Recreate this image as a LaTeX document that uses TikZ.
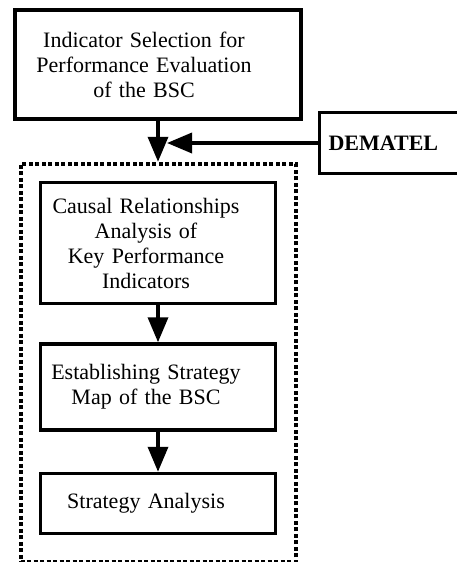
\documentclass[tikz,border=0pt]{standalone}
\usepackage{fontspec}
\setmainfont{Liberation Serif}
\usetikzlibrary{positioning,arrows.meta}

\begin{document}
\begin{tikzpicture}[
    x=1pt, y=1pt,
    font=\fontsize{22}{25}\selectfont,
    box/.style={rectangle, draw, line width=3.5pt, inner xsep=4pt, inner ysep=0pt, align=center,
        execute at begin node={\leftskip=0pt plus 1fill\rightskip=#1 plus 1fill\parfillskip=0pt}},
    dembox/.style={rectangle, draw, line width=3.5pt, text width=140pt, inner xsep=9pt, minimum height=61pt,
        align=left, font=\fontsize{22}{25}\selectfont\bfseries},
    frame/.style={rectangle, draw, line width=4pt, dash pattern=on 4pt off 2.5pt, inner sep=0pt,
        minimum width=275pt, minimum height=398pt},
    arrow/.style={-{Triangle[length=25pt, width=20pt]}, line width=3.5pt}
]
\useasboundingbox (0,0) rectangle (456,-562);

% SELECCION DE INDICADORES
\node[box=28pt, text width=278pt, minimum height=109pt] (sel) at (158,-64.5)
    {Indicator Selection for\\Performance Evaluation\\of the BSC};
\node[dembox, anchor=north west] (dem) at ([xshift=15pt, yshift=10pt]sel.south east) {DEMATEL};

% MARCO DEMATEL
\node[frame, below=41pt of sel] (grp) {};
\node[box=24pt, text width=227pt, minimum height=121pt, below=19pt of grp.north] (cau)
    {Causal Relationships\\Analysis of\\Key Performance\\Indicators};
\node[box=24pt, text width=227pt, minimum height=86pt, below=37pt of cau] (est)
    {Establishing Strategy\\Map of the BSC};
\node[box=24pt, text width=227pt, minimum height=60pt, below=40pt of est] (ana)
    {Strategy Analysis};

% Conexiones
\coordinate (join) at (dem.west -| sel.south);
\draw[arrow] (sel) -- (grp);
\draw[arrow, shorten >=9pt] (dem) -- (join);
\draw[arrow] (cau) -- (est);
\draw[arrow] (est) -- (ana);

\end{tikzpicture}
\end{document}
